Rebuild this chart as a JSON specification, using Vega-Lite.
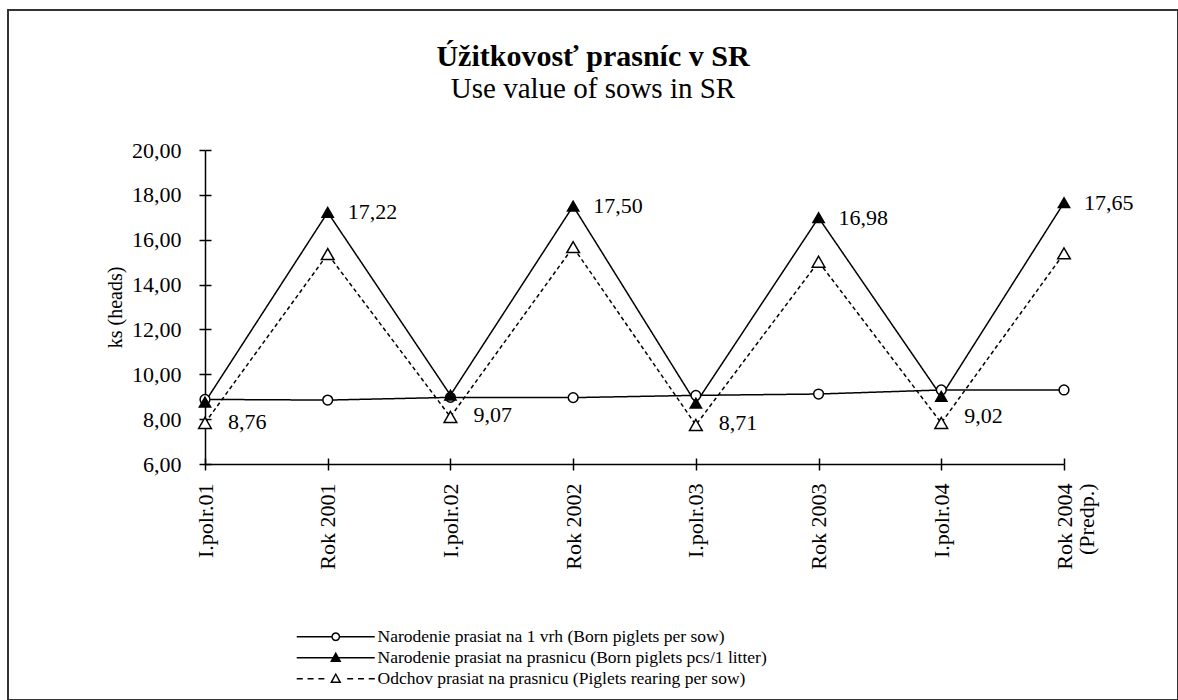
{
  "$schema": "https://vega.github.io/schema/vega-lite/v6.json",
  "width": 1170,
  "height": 690,
  "autosize": {"type": "none"},
  "padding": {"left": 8, "top": 10, "right": 0, "bottom": 0},
  "background": "white",
  "config": {
    "font": "Liberation Serif",
    "view": {"stroke": "#333333", "strokeWidth": 2},
    "locale": {"number": {"decimal": ",", "thousands": " ", "grouping": [3], "currency": ["", ""]}},
    "axis": {"grid": false, "domainColor": "black", "tickColor": "black", "labelColor": "black", "titleColor": "black", "domainWidth": 1.5, "tickWidth": 1.5}
  },
  "title": {
    "text": "Úžitkovosť prasníc v SR",
    "subtitle": "Use value of sows in SR",
    "fontSize": 30,
    "fontWeight": "bold",
    "color": "black",
    "subtitleFontSize": 29,
    "subtitleColor": "black",
    "subtitleFont": "Liberation Serif",
    "subtitlePadding": 3,
    "anchor": "middle",
    "frame": "group",
    "offset": -94
  },
  "data": {
    "values": [
      {"period": "I.polr.01", "series": "Narodenie prasiat na 1 vrh (Born piglets per sow)", "value": 8.88},
      {"period": "Rok 2001", "series": "Narodenie prasiat na 1 vrh (Born piglets per sow)", "value": 8.85},
      {"period": "I.polr.02", "series": "Narodenie prasiat na 1 vrh (Born piglets per sow)", "value": 8.97},
      {"period": "Rok 2002", "series": "Narodenie prasiat na 1 vrh (Born piglets per sow)", "value": 8.96},
      {"period": "I.polr.03", "series": "Narodenie prasiat na 1 vrh (Born piglets per sow)", "value": 9.06},
      {"period": "Rok 2003", "series": "Narodenie prasiat na 1 vrh (Born piglets per sow)", "value": 9.12},
      {"period": "I.polr.04", "series": "Narodenie prasiat na 1 vrh (Born piglets per sow)", "value": 9.30},
      {"period": "Rok 2004 (Predp.)", "series": "Narodenie prasiat na 1 vrh (Born piglets per sow)", "value": 9.30},
      {"period": "I.polr.01", "series": "Narodenie prasiat na prasnicu (Born piglets pcs/1 litter)", "value": 8.76},
      {"period": "Rok 2001", "series": "Narodenie prasiat na prasnicu (Born piglets pcs/1 litter)", "value": 17.22},
      {"period": "I.polr.02", "series": "Narodenie prasiat na prasnicu (Born piglets pcs/1 litter)", "value": 9.07},
      {"period": "Rok 2002", "series": "Narodenie prasiat na prasnicu (Born piglets pcs/1 litter)", "value": 17.50},
      {"period": "I.polr.03", "series": "Narodenie prasiat na prasnicu (Born piglets pcs/1 litter)", "value": 8.71},
      {"period": "Rok 2003", "series": "Narodenie prasiat na prasnicu (Born piglets pcs/1 litter)", "value": 16.98},
      {"period": "I.polr.04", "series": "Narodenie prasiat na prasnicu (Born piglets pcs/1 litter)", "value": 9.02},
      {"period": "Rok 2004 (Predp.)", "series": "Narodenie prasiat na prasnicu (Born piglets pcs/1 litter)", "value": 17.65},
      {"period": "I.polr.01", "series": "Odchov prasiat na prasnicu (Piglets rearing per sow)", "value": 7.83},
      {"period": "Rok 2001", "series": "Odchov prasiat na prasnicu (Piglets rearing per sow)", "value": 15.36},
      {"period": "I.polr.02", "series": "Odchov prasiat na prasnicu (Piglets rearing per sow)", "value": 8.10},
      {"period": "Rok 2002", "series": "Odchov prasiat na prasnicu (Piglets rearing per sow)", "value": 15.67},
      {"period": "I.polr.03", "series": "Odchov prasiat na prasnicu (Piglets rearing per sow)", "value": 7.74},
      {"period": "Rok 2003", "series": "Odchov prasiat na prasnicu (Piglets rearing per sow)", "value": 15.02},
      {"period": "I.polr.04", "series": "Odchov prasiat na prasnicu (Piglets rearing per sow)", "value": 7.83},
      {"period": "Rok 2004 (Predp.)", "series": "Odchov prasiat na prasnicu (Piglets rearing per sow)", "value": 15.39}
    ]
  },
  "layer": [
    {
      "encoding": {
        "x": {
          "field": "period",
          "type": "ordinal",
          "scale": {"type": "point", "domain": ["I.polr.01", "Rok 2001", "I.polr.02", "Rok 2002", "I.polr.03", "Rok 2003", "I.polr.04", "Rok 2004 (Predp.)"], "range": [197, 1056], "padding": 0},
          "axis": {
            "orient": "bottom",
            "offset": -236,
            "title": null,
            "labelAngle": -90,
            "labelFontSize": 22,
            "labelPadding": 13,
            "tickSize": 6,
            "labelLineHeight": 22,
            "labelExpr": "datum.label == 'Rok 2004 (Predp.)' ? ['Rok 2004', '(Predp.)'] : datum.label"
          }
        },
        "y": {
          "field": "value",
          "type": "quantitative",
          "scale": {"domain": [6, 20], "range": [454, 140], "nice": false, "zero": false},
          "axis": {
            "offset": -197,
            "values": [6, 8, 10, 12, 14, 16, 18, 20],
            "format": ".2f",
            "labelFontSize": 22,
            "labelPadding": 18,
            "tickSize": 6,
            "title": "ks (heads)",
            "titleFontSize": 20,
            "titleFontWeight": "normal",
            "titlePadding": 6
          }
        }
      },
      "layer": [
        {
          "mark": {"type": "line", "color": "black", "strokeWidth": 1.5},
          "encoding": {
            "detail": {"field": "series", "type": "nominal"},
            "strokeDash": {
              "field": "series",
              "type": "nominal",
              "scale": {"domain": ["Narodenie prasiat na 1 vrh (Born piglets per sow)", "Narodenie prasiat na prasnicu (Born piglets pcs/1 litter)", "Odchov prasiat na prasnicu (Piglets rearing per sow)"], "range": [[1, 0], [1, 0], [4, 3]]},
              "legend": null
            }
          }
        },
        {
          "mark": {"type": "point", "filled": true, "stroke": "black", "strokeWidth": 1.5, "opacity": 1},
          "encoding": {
            "shape": {
              "field": "series",
              "type": "nominal",
              "scale": {"domain": ["Narodenie prasiat na 1 vrh (Born piglets per sow)", "Narodenie prasiat na prasnicu (Born piglets pcs/1 litter)", "Odchov prasiat na prasnicu (Piglets rearing per sow)"], "range": ["circle", "triangle-up", "triangle-up"]},
              "legend": null
            },
            "fill": {
              "field": "series",
              "type": "nominal",
              "scale": {"domain": ["Narodenie prasiat na 1 vrh (Born piglets per sow)", "Narodenie prasiat na prasnicu (Born piglets pcs/1 litter)", "Odchov prasiat na prasnicu (Piglets rearing per sow)"], "range": ["white", "black", "white"]},
              "legend": null
            },
            "size": {
              "field": "series",
              "type": "nominal",
              "scale": {"domain": ["Narodenie prasiat na 1 vrh (Born piglets per sow)", "Narodenie prasiat na prasnicu (Born piglets pcs/1 litter)", "Odchov prasiat na prasnicu (Piglets rearing per sow)"], "range": [95, 160, 150]},
              "legend": null
            }
          }
        },
        {
          "transform": [{"filter": "datum.series == 'Narodenie prasiat na prasnicu (Born piglets pcs/1 litter)' && datum.value > 12"}],
          "mark": {"type": "text", "align": "left", "baseline": "middle", "dx": 20, "fontSize": 22, "color": "black"},
          "encoding": {"text": {"field": "value", "type": "quantitative", "format": ".2f"}}
        },
        {
          "transform": [{"filter": "datum.series == 'Narodenie prasiat na prasnicu (Born piglets pcs/1 litter)' && datum.value < 12"}],
          "mark": {"type": "text", "align": "left", "baseline": "middle", "dx": 23, "dy": 20, "fontSize": 22, "color": "black"},
          "encoding": {"text": {"field": "value", "type": "quantitative", "format": ".2f"}}
        }
      ]
    },
    {
      "transform": [{"filter": "datum.value < 0"}],
      "mark": {"type": "point", "filled": true, "color": "black", "strokeWidth": 0, "opacity": 1},
      "encoding": {
        "x": {
          "field": "period",
          "type": "ordinal",
          "scale": {"type": "point", "domain": ["I.polr.01", "Rok 2001", "I.polr.02", "Rok 2002", "I.polr.03", "Rok 2003", "I.polr.04", "Rok 2004 (Predp.)"], "range": [197, 1056], "padding": 0},
          "axis": {"orient": "top", "offset": -454, "title": null, "labels": false, "domain": false, "tickSize": 6}
        },
        "y": {
          "field": "value",
          "type": "quantitative",
          "scale": {"domain": [6, 20], "range": [454, 140], "nice": false, "zero": false},
          "axis": {"orient": "right", "offset": -973, "title": null, "labels": false, "domain": false, "values": [6, 8, 10, 12, 14, 16, 18, 20], "tickSize": 6}
        },
        "shape": {
          "field": "series",
          "type": "nominal",
          "scale": {
            "domain": ["Narodenie prasiat na 1 vrh (Born piglets per sow)", "Narodenie prasiat na prasnicu (Born piglets pcs/1 litter)", "Odchov prasiat na prasnicu (Piglets rearing per sow)"],
            "range": [
              "M-1,-0.125L4.8,-0.125L4.8,0.125L-1,0.125ZM6.2,-0.125L12,-0.125L12,0.125L6.2,0.125ZM6.25,0L6.15,0.375L5.875,0.65L5.5,0.75L5.125,0.65L4.85,0.375L4.75,0L4.85,-0.375L5.125,-0.65L5.5,-0.75L5.875,-0.65L6.15,-0.375ZM6,0L5.933,-0.25L5.75,-0.433L5.5,-0.5L5.25,-0.433L5.067,-0.25L5,0L5.067,0.25L5.25,0.433L5.5,0.5L5.75,0.433L5.933,0.25Z",
              "M-1,-0.125L12,-0.125L12,0.125L-1,0.125ZM5.5,-1L6.45,0.7L4.55,0.7Z",
              "M-1,-0.125L0,-0.125L0,0.125L-1,0.125ZM0.8,-0.125L1.8,-0.125L1.8,0.125L0.8,0.125ZM2.6,-0.125L3.6,-0.125L3.6,0.125L2.6,0.125ZM7.4,-0.125L8.4,-0.125L8.4,0.125L7.4,0.125ZM9.2,-0.125L10.2,-0.125L10.2,0.125L9.2,0.125ZM11,-0.125L12,-0.125L12,0.125L11,0.125ZM5.5,-1L6.45,0.7L4.55,0.7ZM5.5,-0.55L4.98,0.45L6.02,0.45Z"
            ]
          },
          "legend": {
            "orient": "none", "legendX": 286, "legendY": 618, "title": null, "direction": "vertical",
            "labelFontSize": 17.5, "labelColor": "black", "labelLimit": 0, "symbolSize": 144, "symbolStrokeWidth": 0, "symbolFillColor": "black", "labelOffset": 66, "padding": 0
          }
        }
      }
    }
  ],
  "resolve": {"scale": {"shape": "independent", "fill": "independent"}, "axis": {"x": "independent", "y": "independent"}}
}
